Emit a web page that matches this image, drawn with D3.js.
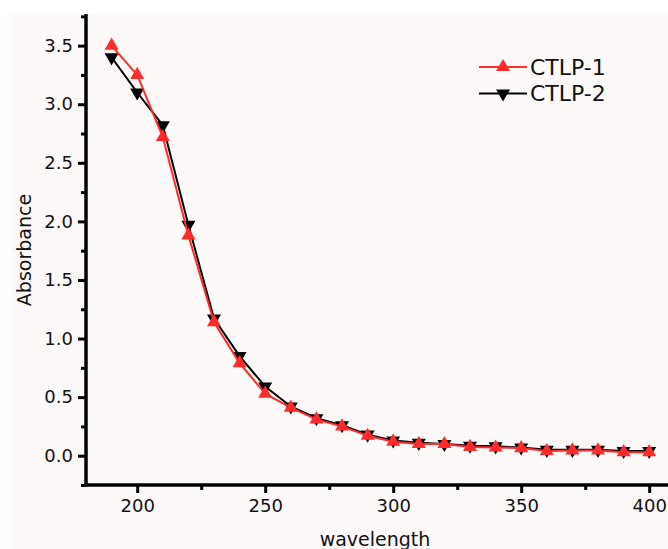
<!DOCTYPE html>
<html>
<head>
<meta charset="utf-8">
<script src="https://cdn.jsdelivr.net/npm/d3@7"></script>
<style>
  body { margin: 0; background: #fff; }
  svg { display: block; font-family: "DejaVu Sans", sans-serif; }
</style>
</head>
<body>
<div id="chart"></div>
<script>
// Dati
const wavelengths = [190, 200, 210, 220, 230, 240, 250, 260, 270, 280, 290, 300,
    310, 320, 330, 340, 350, 360, 370, 380, 390, 400];
const ctlp1 = [3.50, 3.25, 2.72, 1.88, 1.14, 0.79, 0.53, 0.41, 0.31, 0.25, 0.17, 0.12,
    0.10, 0.10, 0.075, 0.07, 0.065, 0.04, 0.045, 0.045, 0.03, 0.03];
const ctlp2 = [3.40, 3.10, 2.82, 1.97, 1.17, 0.85, 0.59, 0.42, 0.32, 0.26, 0.18, 0.13,
    0.11, 0.10, 0.085, 0.08, 0.07, 0.05, 0.05, 0.05, 0.04, 0.04];
const seriesNames = ['CTLP-1', 'CTLP-2'];
const xTicks = [200, 250, 300, 350, 400];
const yTicks = [0.0, 0.5, 1.0, 1.5, 2.0, 2.5, 3.0, 3.5];

const width = 668;
const height = 549;

const svg = d3.select('#chart')
    .append('svg')
    .attr('width', width)
    .attr('height', height);

// sfondo rosato
svg.append('rect')
    .attr('x', 11).attr('y', 14)
    .attr('width', width - 11).attr('height', height - 14)
    .attr('fill', '#fdf9f9');

const x = d3.scaleLinear().domain([180, 410]).range([86, 674.8]);
const y = d3.scaleLinear().domain([-0.25, 3.77]).range([485, 14]);

// minor ticks
svg.append('g')
    .attr('transform', 'translate(0,485)')
    .call(d3.axisBottom(x).tickValues([225, 275, 325, 375]).tickSize(5).tickFormat(''))
    .call(g => g.select('.domain').remove())
    .selectAll('line').attr('stroke-width', 3);

svg.append('g')
    .attr('transform', 'translate(86,0)')
    .call(d3.axisLeft(y).tickValues([-0.25, 0.25, 0.75, 1.25, 1.75, 2.25, 2.75, 3.25, 3.75]).tickSize(5).tickFormat(''))
    .call(g => g.select('.domain').remove())
    .selectAll('line').attr('stroke-width', 3);

// X axis
const xAxis = svg.append('g')
    .attr('transform', 'translate(0,485)')
    .call(d3.axisBottom(x).tickValues(xTicks).tickSize(8).tickSizeOuter(0).tickPadding(6));
xAxis.select('.domain').attr('stroke-width', 3.5).attr('d', 'M84.5,0H668');
xAxis.selectAll('line').attr('stroke-width', 3);
xAxis.selectAll('text').attr('font-size', 18).attr('fill', '#111')
    .style('font-family', '"DejaVu Sans", sans-serif');

// Y axis
const yAxis = svg.append('g')
    .attr('transform', 'translate(86,0)')
    .call(d3.axisLeft(y).tickValues(yTicks).tickSize(8).tickSizeOuter(0).tickPadding(5)
        .tickFormat(d3.format('.1f')));
yAxis.select('.domain').attr('stroke-width', 3.5).attr('d', 'M0,14V486.5');
yAxis.selectAll('line').attr('stroke-width', 3);
yAxis.selectAll('text').attr('font-size', 18).attr('fill', '#111')
    .style('font-family', '"DejaVu Sans", sans-serif');

// Labels
svg.append('text')
    .attr('transform', 'translate(31,250) rotate(-90)')
    .attr('text-anchor', 'middle')
    .attr('font-size', 19)
    .attr('fill', '#111')
    .text('Absorbance');

svg.append('text')
    .attr('x', 375).attr('y', 546)
    .attr('text-anchor', 'middle')
    .attr('font-size', 19)
    .attr('fill', '#111')
    .text('wavelength');

const upTri = d3.symbol().type(d3.symbolTriangle).size(85);
const downTri = d3.symbol().type(d3.symbolTriangle).size(85);

const series = [
    { name: seriesNames[1], values: ctlp2, color: '#000000', rot: 180 },
    { name: seriesNames[0], values: ctlp1, color: '#ff2b2b', rot: 0 }
];

const line = d3.line()
    .x((d, i) => x(wavelengths[i]))
    .y(d => y(d));

series.forEach(s => {
    const g = svg.append('g');
    g.append('path')
        .datum(s.values)
        .attr('d', line)
        .attr('fill', 'none')
        .attr('stroke', s.color)
        .attr('stroke-width', 2);
    g.selectAll('path.mark')
        .data(s.values)
        .join('path')
        .attr('class', 'mark')
        .attr('d', s.rot ? downTri : upTri)
        .attr('transform', (d, i) => `translate(${x(wavelengths[i])},${y(d)}) rotate(${s.rot})`)
        .attr('fill', s.color);
});

// Legend
const legend = svg.append('g');
[series[1], series[0]].forEach((s, i) => {
    const ly = 67 + i * 26.5;
    legend.append('line')
        .attr('x1', 479).attr('x2', 527)
        .attr('y1', ly).attr('y2', ly)
        .attr('stroke', s.color).attr('stroke-width', 2);
    legend.append('path')
        .attr('d', s.rot ? downTri : upTri)
        .attr('transform', `translate(503,${ly}) rotate(${s.rot})`)
        .attr('fill', s.color);
    legend.append('text')
        .attr('x', 530).attr('y', ly)
        .attr('dy', '0.36em')
        .attr('font-size', 22)
        .attr('fill', '#111')
        .text(s.name);
});
</script>
</body>
</html>
